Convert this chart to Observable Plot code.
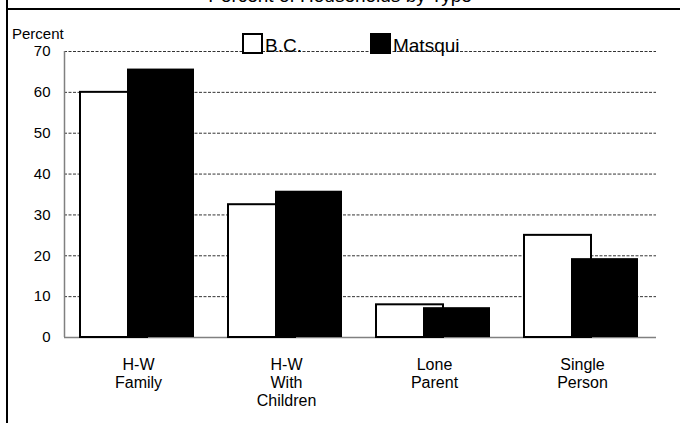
<!DOCTYPE html>
<html>
<head>
<meta charset="utf-8">
<script src="https://cdn.jsdelivr.net/npm/d3@7"></script>
<script src="https://cdn.jsdelivr.net/npm/@observablehq/plot@0.6"></script>
<style>
  html, body { margin: 0; padding: 0; background: #fff; overflow: hidden; }
  body { font-family: "Liberation Sans", Arial, sans-serif; }
  #wrap { position: relative; width: 680px; height: 423px; overflow: hidden; }
  #chart { position: absolute; left: 0; top: 0; }
  .lineV { position: absolute; left: 6px; top: 0; width: 2px; height: 423px; background: #000; }
  .lineH { position: absolute; left: 6px; top: 8px; width: 674px; height: 2px; background: #000; }
  #title { position: absolute; left: 0; width: 680px; top: -15px; text-align: center; font-size: 19px; color: #000; }
  #ylabel { position: absolute; left: 12px; top: 25px; font-size: 15px; color: #000; }
  #legend { position: absolute; left: 242px; top: 32px; height: 22px; font-size: 19px; line-height: 19px; color: #000; display: flex; align-items: flex-end; }
  .sw { width: 17px; height: 17px; border: 2px solid #000; box-sizing: content-box; }
  .item { display: flex; align-items: flex-end; }
</style>
</head>
<body>
<div id="wrap">
  <div id="chart"></div>
  <div class="lineV"></div>
  <div class="lineH"></div>
  <div id="title"></div>
  <div id="ylabel"></div>
  <div id="legend"></div>
</div>
<script>
const title = "Percent of Households by Type";
const yLabel = "Percent";
const categories = ["H-W\nFamily", "H-W\nWith\nChildren", "Lone\nParent", "Single\nPerson"];
const seriesNames = ["B.C.", "Matsqui"];
const bcValues = [60.0, 32.5, 8.0, 25.0];
const matsquiValues = [65.7, 35.8, 7.3, 19.3];
const yTicks = [0, 10, 20, 30, 40, 50, 60, 70];

const rows = categories.map((c, i) => ({cat: c, bc: bcValues[i], matsqui: matsquiValues[i]}));

document.getElementById("title").textContent = title;
document.getElementById("ylabel").textContent = yLabel;
const legend = document.getElementById("legend");
seriesNames.forEach((name, i) => {
  const item = document.createElement("div");
  item.className = "item";
  item.style.marginRight = i === 0 ? "68px" : "0";
  const sw = document.createElement("div");
  sw.className = "sw";
  sw.style.background = i === 0 ? "#fff" : "#000";
  const lab = document.createElement("span");
  lab.textContent = name;
  lab.style.marginLeft = "2px";
  lab.style.marginBottom = "-1px";
  item.appendChild(sw);
  item.appendChild(lab);
  legend.appendChild(item);
});

const W = 680, ML = 64, MR = 24;
const band = (W - ML - MR) / categories.length;

const chart = Plot.plot({
  width: W,
  height: 423,
  marginLeft: ML,
  marginRight: MR,
  marginTop: 51,
  marginBottom: 86,
  style: {fontFamily: "Liberation Sans, Arial, sans-serif", color: "#000", background: "transparent"},
  x: {domain: categories, padding: 0},
  y: {domain: [0, 70]},
  marks: [
    Plot.ruleY(yTicks.filter(d => d > 0), {stroke: "#000", strokeWidth: 1, strokeOpacity: 0.8, strokeDasharray: "3,1.5"}),
    Plot.ruleY([0], {stroke: "#808080", strokeWidth: 1.5}),
    Plot.ruleX([categories[0]], {x: d => d, y1: 0, y2: 70, dx: -band / 2, stroke: "#808080", strokeWidth: 1.5}),
    Plot.barY(rows, {x: "cat", y: "bc", fill: "#fff", stroke: "#000", strokeWidth: 2, insetLeft: 16, insetRight: 65}),
    Plot.barY(rows, {x: "cat", y: "matsqui", fill: "#000", insetLeft: 63, insetRight: 18}),
    Plot.axisY({ticks: yTicks, tickSize: 0, tickPadding: 14, fontSize: 15, label: null}),
    Plot.axisX({tickSize: 0, tickPadding: 19, fontSize: 16, lineHeight: 1.15, label: null})
  ]
});
document.getElementById("chart").appendChild(chart);
</script>
</body>
</html>
